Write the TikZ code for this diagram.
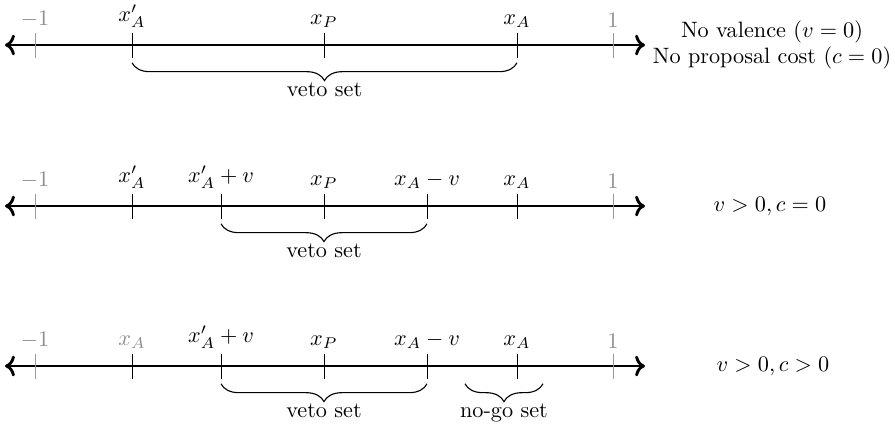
\documentclass[tikz,border=0pt]{standalone}
\usetikzlibrary{decorations.pathreplacing,arrows.meta}
\begin{document}
\begin{tikzpicture}[x=0.45pt,y=-0.45pt,
  axis/.style={line width=1.3pt,<->},
  tk/.style={line width=0.45pt},
  gtk/.style={tk,draw=black!40},
  lab/.style={anchor=south,inner sep=0pt},
  glab/.style={lab,text=black!45},
  br/.style={decorate,decoration={brace,mirror,amplitude=8pt},line width=0.5pt},
  brlab/.style={anchor=base,inner sep=0pt},
  cond/.style={align=center,inner sep=0pt}]
\useasboundingbox (0,0) rectangle (895,424);

% ---------- Row 1 ----------
\coordinate (a1) at (5,45);
\coordinate (b1) at (645,45);
\draw[axis] (a1) -- (b1);
\coordinate (t1m) at (35,45);
\coordinate (t1p) at (132,45);
\coordinate (t1x) at (324,45);
\coordinate (t1a) at (517,45);
\coordinate (t1o) at (613,45);
\draw[gtk] (t1m) ++(0,-12) -- ++(0,25);
\draw[tk] (t1p) ++(0,-12) -- ++(0,25);
\draw[tk] (t1x) ++(0,-12) -- ++(0,25);
\draw[tk] (t1a) ++(0,-12) -- ++(0,25);
\draw[gtk] (t1o) ++(0,-12) -- ++(0,25);
\node[glab] (l1m) at (35,28) {$-1$};
\node[lab] (l1p) at (132,28) {$x'_A$};
\node[lab] (l1x) at (324,28) {$x_P$};
\node[lab] (l1a) at (517,28) {$x_A$};
\node[glab] (l1o) at (613,28) {$1$};
\draw[br] ([yshift=-8pt]t1p) -- ([yshift=-8pt]t1a);
\node[brlab] (v1) at (324.5,96) {veto set};
\node[cond] (c1) at (772,45) {No valence ($v=0$)\\No proposal cost ($c=0$)};

% ---------- Row 2 ----------
\coordinate (a2) at (5,206);
\coordinate (b2) at (645,206);
\draw[axis] (a2) -- (b2);
\coordinate (t2m) at (35,206);
\coordinate (t2p) at (132,206);
\coordinate (t2pv) at (221,206);
\coordinate (t2x) at (324,206);
\coordinate (t2av) at (427,206);
\coordinate (t2a) at (517,206);
\coordinate (t2o) at (613,206);
\draw[gtk] (t2m) ++(0,-12) -- ++(0,25);
\draw[tk] (t2p) ++(0,-12) -- ++(0,25);
\draw[tk] (t2pv) ++(0,-12) -- ++(0,25);
\draw[tk] (t2x) ++(0,-12) -- ++(0,25);
\draw[tk] (t2av) ++(0,-12) -- ++(0,25);
\draw[tk] (t2a) ++(0,-12) -- ++(0,25);
\draw[gtk] (t2o) ++(0,-12) -- ++(0,25);
\node[glab] (l2m) at (35,189) {$-1$};
\node[lab] (l2p) at (132,189) {$x'_A$};
\node[lab] (l2pv) at (221,189) {$x'_A+v$};
\node[lab] (l2x) at (324,189) {$x_P$};
\node[lab] (l2av) at (427,189) {$x_A-v$};
\node[lab] (l2a) at (517,189) {$x_A$};
\node[glab] (l2o) at (613,189) {$1$};
\draw[br] ([yshift=-8pt]t2pv) -- ([yshift=-8pt]t2av);
\node[brlab] (v2) at (324,257) {veto set};
\node[cond] (c2) at (770,206) {$v>0, c=0$};

% ---------- Row 3 ----------
\coordinate (a3) at (5,366);
\coordinate (b3) at (645,366);
\draw[axis] (a3) -- (b3);
\coordinate (t3m) at (35,366);
\coordinate (t3p) at (132,366);
\coordinate (t3pv) at (221,366);
\coordinate (t3x) at (324,366);
\coordinate (t3av) at (427,366);
\coordinate (t3a) at (517,366);
\coordinate (t3o) at (613,366);
\coordinate (n3l) at (465,366);
\coordinate (n3r) at (543,366);
\draw[gtk] (t3m) ++(0,-12) -- ++(0,25);
\draw[tk] (t3p) ++(0,-12) -- ++(0,25);
\draw[tk] (t3pv) ++(0,-12) -- ++(0,25);
\draw[tk] (t3x) ++(0,-12) -- ++(0,25);
\draw[tk] (t3av) ++(0,-12) -- ++(0,25);
\draw[tk] (t3a) ++(0,-12) -- ++(0,25);
\draw[gtk] (t3o) ++(0,-12) -- ++(0,25);
\node[glab] (l3m) at (35,349) {$-1$};
\node[glab] (l3p) at (132,349) {$x_A$};
\node[lab] (l3pv) at (221,349) {$x'_A+v$};
\node[lab] (l3x) at (324,349) {$x_P$};
\node[lab] (l3av) at (427,349) {$x_A-v$};
\node[lab] (l3a) at (517,349) {$x_A$};
\node[glab] (l3o) at (613,349) {$1$};
\draw[br] ([yshift=-8pt]t3pv) -- ([yshift=-8pt]t3av);
\node[brlab] (v3) at (324,417) {veto set};
\draw[br] ([yshift=-8pt]n3l) -- ([yshift=-8pt]n3r);
\node[brlab] (g3) at (504,417) {no-go set};
\node[cond] (c3) at (773,366) {$v>0, c>0$};
\end{tikzpicture}
\end{document}
